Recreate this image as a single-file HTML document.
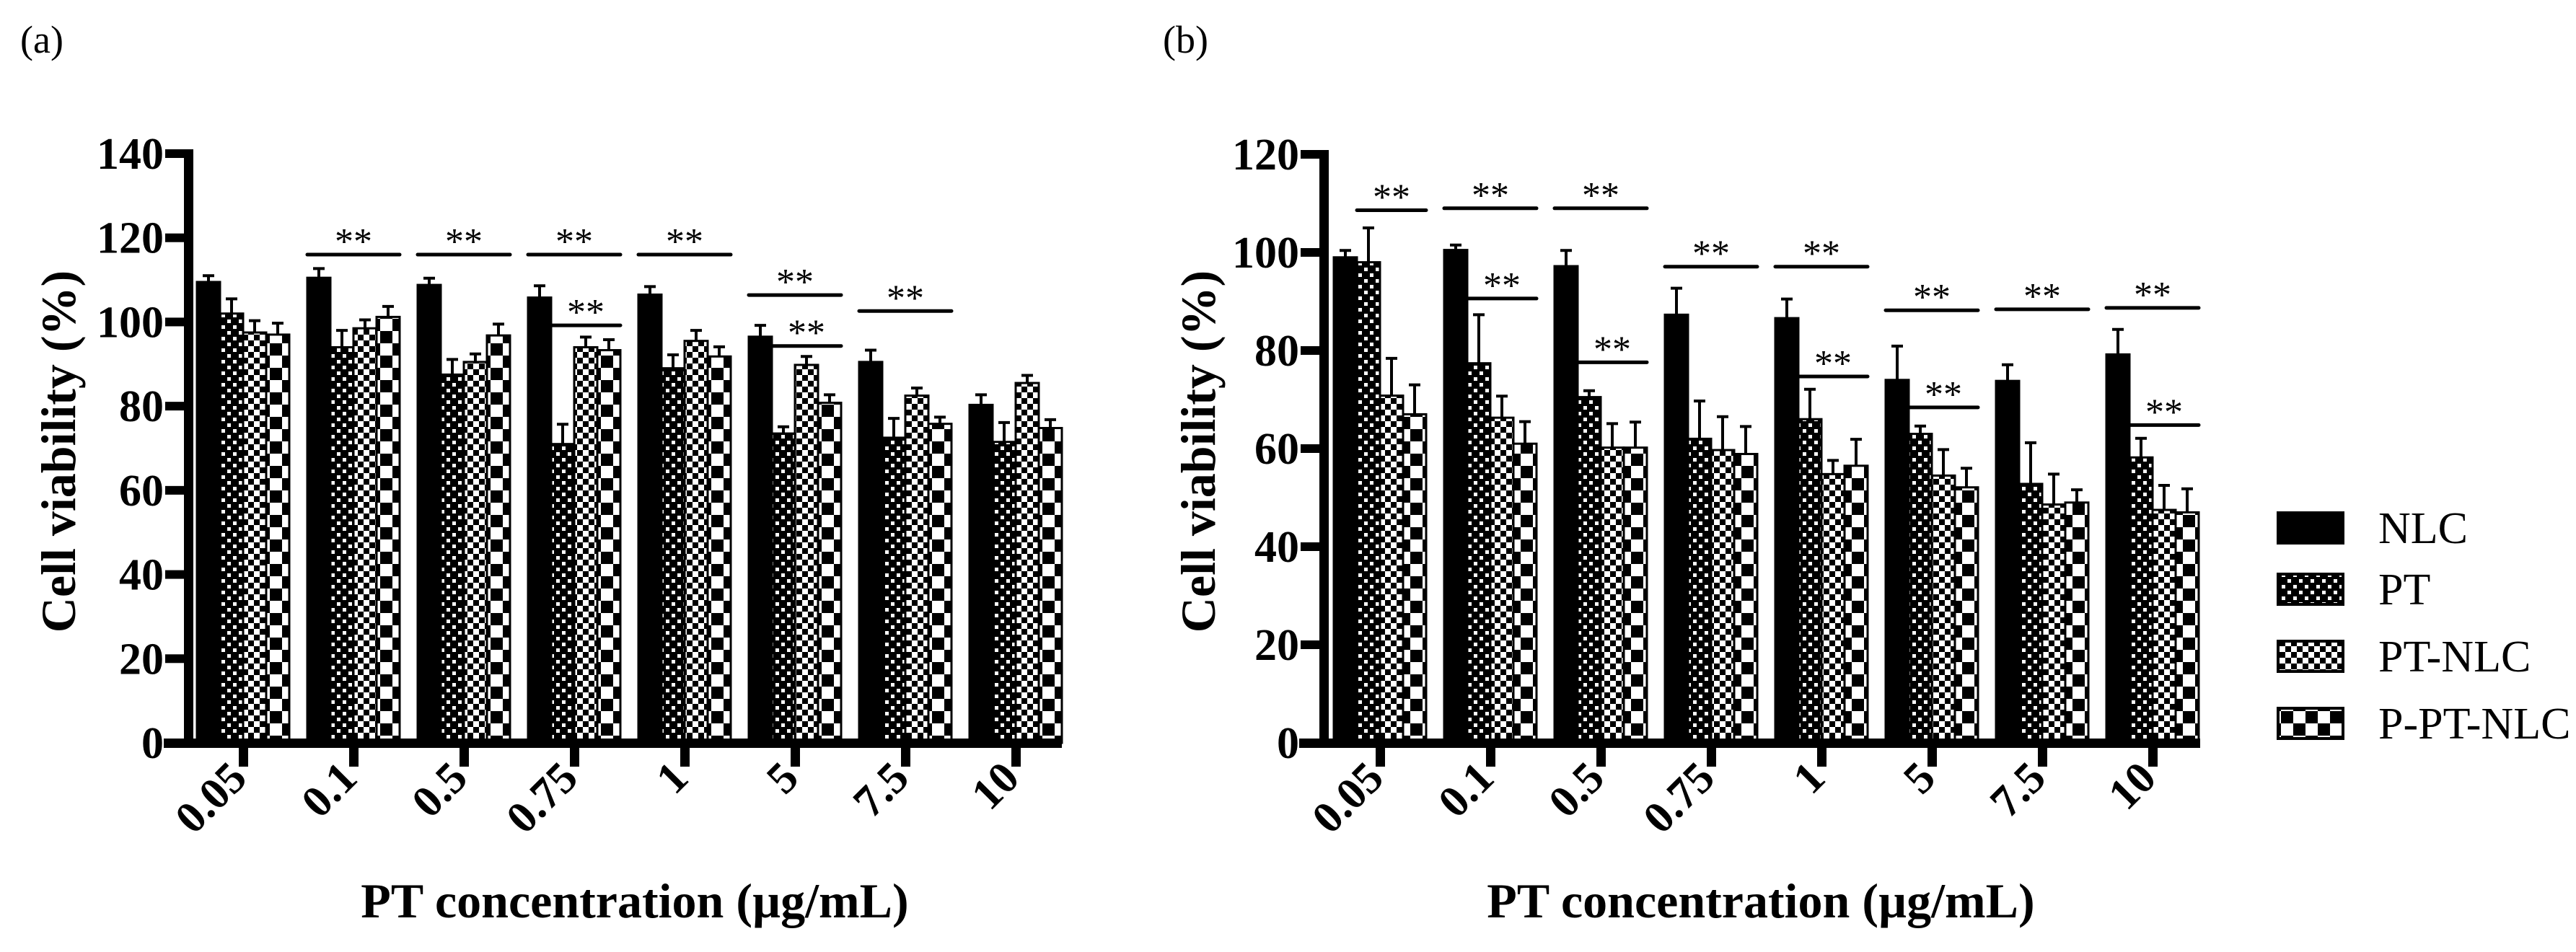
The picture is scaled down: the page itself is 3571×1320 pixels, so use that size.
<!DOCTYPE html>
<html><head><meta charset="utf-8"><style>
html,body{margin:0;padding:0;background:#fff;}
svg{display:block;}
svg text{font-family:"Liberation Serif","Times New Roman",serif;}
</style></head><body>
<svg id="chart" width="3571" height="1320" viewBox="0 0 3571 1320" xmlns="http://www.w3.org/2000/svg" font-family="Liberation Serif, serif">
<defs>
<pattern id="pPT" width="16" height="16" patternUnits="userSpaceOnUse"><rect width="16" height="16" fill="#000"/><rect x="3" y="3" width="5" height="5" fill="#fff"/><rect x="11" y="11" width="5" height="5" fill="#fff"/></pattern>
<pattern id="pPTNLC" width="16" height="16" patternUnits="userSpaceOnUse"><rect width="16" height="16" fill="#fff"/><rect x="0" y="0" width="8" height="8" fill="#000"/><rect x="8" y="8" width="8" height="8" fill="#000"/></pattern>
<pattern id="pPPT" width="34" height="34" patternUnits="userSpaceOnUse"><rect width="34" height="34" fill="#fff"/><rect x="0" y="0" width="17" height="17" fill="#000"/><rect x="17" y="17" width="17" height="17" fill="#000"/></pattern>
</defs>
</svg>
<script>
const categories = ["0.05","0.1","0.5","0.75","1","5","7.5","10"];
const seriesNames = ["NLC","PT","PT-NLC","P-PT-NLC"];
const aNLC = [109.5,110.5,108.8,105.8,106.5,96.5,90.5,80.3];
const aNLCerr = [1.5,2.2,1.6,2.8,1.9,2.7,2.8,2.4];
const aPT = [102,94,87.5,71,89,73.5,72.5,71.5];
const aPTerr = [3.5,4,3.6,4.7,3.2,1.6,4.6,4.6];
const aPTNLC = [97.5,98.5,90.5,94,95.5,89.8,82.5,85.5];
const aPTNLCerr = [2.8,2,1.9,2.4,2.5,2,1.8,1.8];
const aPPT = [97,101.2,96.8,93.3,91.8,80.8,75.8,74.8];
const aPPTerr = [2.7,2.5,2.7,2.5,2.3,1.9,1.6,2];
const bNLC = [99,100.5,97.2,87.3,86.6,74,73.8,79.2];
const bNLCerr = [1.4,1,3.2,5.4,3.9,6.9,3.3,5.1];
const bPT = [98,77.4,70.5,62,66,63,52.8,58.2];
const bPTerr = [7,9.9,1.3,7.7,6.1,1.6,8.4,3.9];
const bPTNLC = [70.8,66.3,60.2,59.7,54.8,54.5,48.6,47.5];
const bPTNLCerr = [7.6,4.4,4.9,6.8,2.8,5.3,6.2,5];
const bPPT = [67,61,60.2,58.9,56.5,52.1,49,47];
const bPPTerr = [6,4.5,5.2,5.6,5.4,3.9,2.6,4.8];
const aTicks = [0,20,40,60,80,100,120,140];
const bTicks = [0,20,40,60,80,100,120];
// significance brackets: [groupIndex, fromSeries, toSeries, value]
const aSig = [[1,0,3,116],[2,0,3,116],[3,0,3,116],[3,1,3,99.2],[4,0,3,116],[5,0,3,106.4],[5,1,3,94.3],[6,0,3,102.6]];
const bSig = [[0,1,3,108.6],[1,0,3,109],[1,1,3,90.6],[2,0,3,109],[2,1,3,77.6],[3,0,3,97.1],[4,0,3,97.1],[4,1,3,74.7],[5,0,3,88.2],[5,1,3,68.4],[6,0,3,88.4],[7,0,3,88.7],[7,1,3,64.8]];

const NS="http://www.w3.org/2000/svg";
const svg=document.getElementById('chart');
const FF="Liberation Serif, Times New Roman, serif";
const fills=["#000","url(#pPT)","url(#pPTNLC)","url(#pPPT)"];
function mk(tag,attrs,parent){const e=document.createElementNS(NS,tag);for(const k in attrs)e.setAttribute(k,attrs[k]);if(tag==='text')e.setAttribute('font-family',FF);(parent||svg).appendChild(e);return e;}

function panel(cfg){
  const g=mk('g',{});
  
  
  const y=v=>cfg.y0-(v/cfg.ymax)*(cfg.y0-cfg.ytop);
  const cx=i=>cfg.c0+i*153;
  const bw=32;
  const bx=(i,s)=>cx(i)-64+s*bw;
  cfg.vals.forEach((arr,s)=>{
    arr.forEach((v,i)=>{
      const r=mk('rect',{x:bx(i,s),y:y(v),width:bw,height:cfg.y0-y(v),fill:fills[s],stroke:"#000","stroke-width":3},g);
      
      
      const top=y(v+cfg.errs[s][i]);
      const m=bx(i,s)+bw/2;
      const eb=mk('path',{d:`M${m} ${y(v)}V${top}M${m-8} ${top}H${m+8}`,stroke:"#000","stroke-width":4,fill:"none"},g);
      
      
    });
  });
  const ya=mk('rect',{x:cfg.ax,y:cfg.ytop-6,width:13,height:cfg.y0-cfg.ytop+13,fill:"#000"},g);
  
  
  const xa=mk('rect',{x:cfg.ax-28,y:cfg.y0-6,width:cfg.xend-cfg.ax+28,height:13,fill:"#000"},g);
  
  
  cfg.ticks.forEach(t=>{
    mk('rect',{x:cfg.ax-26,y:y(t)-6,width:26,height:12,fill:"#000"},g);
    const tl=mk('text',{x:cfg.ax-28,y:y(t)+21,"text-anchor":"end","font-size":62,"font-weight":"bold"},g);
    tl.textContent=t;
    
    
  });
  categories.forEach((c,i)=>{
    mk('rect',{x:cx(i)-6,y:cfg.y0,width:13,height:33,fill:"#000"},g);
    const tx=cx(i)+8, ty=1082;
    const tl=mk('text',{x:tx,y:ty,"text-anchor":"end","font-size":62,"font-weight":"bold",transform:`rotate(-45 ${tx} ${ty})`},g);
    tl.textContent=c;
    
    
  });
  cfg.sig.forEach(sg=>{
    const x1=bx(sg[0],sg[1]), x2=bx(sg[0],sg[2])+bw, yy=y(sg[3]);
    const ln=mk('line',{x1:x1,x2:x2,y1:yy,y2:yy,stroke:"#000","stroke-width":5,"stroke-linecap":"round"},g);
    
    
    const st=mk('text',{x:(x1+x2)/2,y:yy-1,"text-anchor":"middle","font-size":52},g);
    st.textContent="**";
    
    
  });
  const yt=mk('text',{x:0,y:0,"text-anchor":"middle","font-size":68,"font-weight":"bold",transform:`translate(${cfg.ytx} 626) rotate(-90)`},g);
  yt.textContent="Cell viability (%)";
  
  
  const xt=mk('text',{x:cfg.xtx,y:1272,"text-anchor":"middle","font-size":68,"font-weight":"bold"},g);
  xt.textContent="PT concentration (µg/mL)";
  
  
  const pl=mk('text',{x:cfg.plx,y:73,"font-size":54},g);
  pl.textContent=cfg.label;
  
  
}
panel({name:'panel-a',label:'(a)',plx:28,ax:255,y0:1030,ytop:213,ymax:140,c0:337,xend:1472,ticks:aTicks,
  vals:[aNLC,aPT,aPTNLC,aPPT],errs:[aNLCerr,aPTerr,aPTNLCerr,aPPTerr],sig:aSig,ytx:104,xtx:880});
panel({name:'panel-b',label:'(b)',plx:1612,ax:1829,y0:1030,ytop:214,ymax:120,c0:1913,xend:3050,ticks:bTicks,
  vals:[bNLC,bPT,bPTNLC,bPPT],errs:[bNLCerr,bPTerr,bPTNLCerr,bPPTerr],sig:bSig,ytx:1684,xtx:2441});

const lg=mk('g',{});


const ly=[711,796,889,982];
seriesNames.forEach((n,s)=>{
  const sw=mk('rect',{x:3158,y:ly[s],width:90,height:42,fill:fills[s],stroke:"#000","stroke-width":4},lg);
  
  
  const t=mk('text',{x:3297,y:ly[s]+42,"font-size":62},lg);
  t.textContent=n;
  
  
});
</script>
</body></html>
